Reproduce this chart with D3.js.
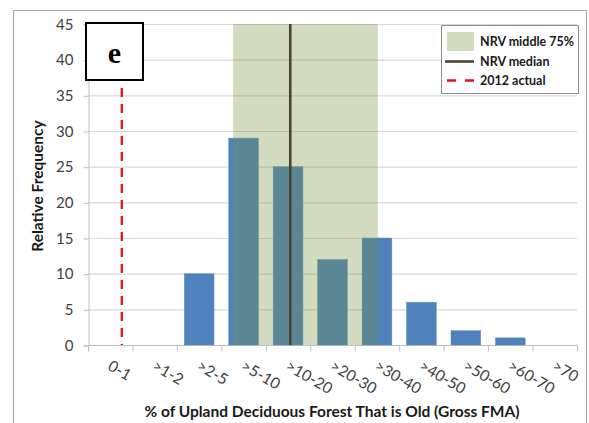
<!DOCTYPE html>
<html>
<head>
<meta charset="utf-8">
<script src="https://cdn.jsdelivr.net/npm/d3@7/dist/d3.min.js"></script>
<style>
  html, body { margin: 0; padding: 0; background: #fff; }
  svg { display: block; font-family: Lato, "Open Sans", sans-serif; }
</style>
</head>
<body>
<svg id="chart" width="589" height="423"></svg>
<script>
// ---- data ----
const categories = ["0-1", ">1-2", ">2-5", ">5-10", ">10-20", ">20-30", ">30-40", ">40-50", ">50-60", ">60-70", ">70"];
const frequency = [0, 0, 10, 29, 25, 12, 15, 6, 2, 1, 0];
const yTicks = [0, 5, 10, 15, 20, 25, 30, 35, 40, 45];
// reference lines in category-index units along the x axis
const nrvMiddle75 = [3.26, 6.52];
const nrvMedian = 4.55;
const actual2012 = 0.76;
const legendItems = ["NRV middle 75%", "NRV median", "2012 actual"];

// ---- layout ----
const svg = d3.select("#chart");
const L = 88, R = 577, T = 24, B = 345;

const x = d3.scaleBand().domain(categories).range([L, R]).paddingInner(0.33).paddingOuter(0.165);
const xi = d3.scaleLinear().domain([0, categories.length]).range([L, R]);
const y = d3.scaleLinear().domain([0, 45]).range([B, T]);

// outer frame
svg.append("rect").attr("x", 13.5).attr("y", 10.5).attr("width", 573).attr("height", 430)
  .attr("fill", "none").attr("stroke", "#a6a6a6").attr("stroke-width", 1);

// gridlines
svg.append("g").selectAll("line").data(yTicks.filter(d => d > 0)).join("line")
  .attr("x1", L).attr("x2", R).attr("y1", d => y(d) + 0.5).attr("y2", d => y(d) + 0.5)
  .attr("stroke", "#d9d9d9").attr("stroke-width", 1.2);

// y axis
const yAxis = d3.axisLeft(y).tickValues(yTicks).tickSize(5).tickPadding(10);
const gy = svg.append("g").attr("transform", `translate(${L + 0.5},0.5)`).call(yAxis);
gy.select(".domain").attr("stroke", "#bfbfbf");
gy.selectAll(".tick line").attr("stroke", "#bfbfbf");
gy.selectAll(".tick text").attr("fill", "#404040").style("font-size", "15px").style("font-family", "Lato, sans-serif");

// x axis (ticks at category boundaries)
const gx = svg.append("g").attr("transform", `translate(0,${B + 0.5})`);
gx.append("line").attr("x1", L).attr("x2", R).attr("stroke", "#bfbfbf");
gx.selectAll("line.tk").data(d3.range(categories.length + 1)).join("line").attr("class", "tk")
  .attr("x1", d => xi(d) + 0.5).attr("x2", d => xi(d) + 0.5).attr("y1", 0).attr("y2", 6)
  .attr("stroke", "#bfbfbf");
gx.selectAll("text").data(categories).join("text")
  .attr("transform", d => `translate(${x(d) + x.bandwidth() / 2 + 2},14) rotate(30)`)
  .attr("dy", "0.71em").attr("text-anchor", "start")
  .attr("fill", "#404040").style("font-size", "15.5px")
  .text(d => d);

// bars
svg.append("g").selectAll("rect").data(categories.map((c, i) => ({ c, v: frequency[i] })).filter(d => d.v > 0))
  .join("rect")
  .attr("x", d => x(d.c)).attr("width", x.bandwidth())
  .attr("y", d => y(d.v)).attr("height", d => y(0) - y(d.v))
  .attr("fill", "#4f81bd").attr("stroke", "#6a93c6").attr("stroke-width", 0.5);

// NRV middle 75% band
svg.append("rect")
  .attr("x", xi(nrvMiddle75[0])).attr("width", xi(nrvMiddle75[1]) - xi(nrvMiddle75[0]))
  .attr("y", y(45)).attr("height", y(0) - y(45))
  .attr("fill", "#77933c").attr("fill-opacity", 0.32);

// NRV median
svg.append("line")
  .attr("x1", xi(nrvMedian)).attr("x2", xi(nrvMedian)).attr("y1", y(45)).attr("y2", y(0))
  .attr("stroke", "#4a4530").attr("stroke-width", 2.6);

// 2012 actual
svg.append("line")
  .attr("x1", xi(actual2012)).attr("x2", xi(actual2012)).attr("y1", y(45)).attr("y2", y(0))
  .attr("stroke", "#e0141c").attr("stroke-width", 2.3).attr("stroke-dasharray", "9,7");

// "e" panel label
svg.append("rect").attr("x", 86).attr("y", 23).attr("width", 57).attr("height", 57)
  .attr("fill", "#fff").attr("stroke", "#000").attr("stroke-width", 2);
svg.append("text").attr("x", 114.5).attr("y", 63).attr("text-anchor", "middle")
  .style("font-family", "'Liberation Serif', 'DejaVu Serif', serif").style("font-weight", "bold").style("font-size", "30px")
  .text("e");

// legend
const lg = svg.append("g");
lg.append("rect").attr("x", 441.5).attr("y", 25.5).attr("width", 137).attr("height", 68)
  .attr("fill", "#fff").attr("stroke", "#8c8c8c").attr("stroke-width", 1);
lg.append("rect").attr("x", 447).attr("y", 32).attr("width", 27).attr("height", 19)
  .attr("fill", "#77933c").attr("fill-opacity", 0.32);
lg.append("line").attr("x1", 445).attr("x2", 474).attr("y1", 61.5).attr("y2", 61.5)
  .attr("stroke", "#4a4530").attr("stroke-width", 2.6);
lg.append("line").attr("x1", 447).attr("x2", 474).attr("y1", 80.5).attr("y2", 80.5)
  .attr("stroke", "#e0141c").attr("stroke-width", 2.3).attr("stroke-dasharray", "9,9");
lg.selectAll("text").data(legendItems).join("text")
  .attr("x", 480).attr("y", (d, i) => 42 + i * 19.5).attr("dy", "0.35em")
  .attr("fill", "#1a1a1a").style("font-weight", "bold").style("font-size", "12.5px")
  .text(d => d);

// axis titles
svg.append("text").attr("transform", "translate(42.5,186) rotate(-90)").attr("text-anchor", "middle")
  .attr("fill", "#1a1a1a").style("font-weight", "bold").style("font-size", "15.5px")
  .text("Relative Frequency");
svg.append("text").attr("x", 332).attr("y", 417).attr("text-anchor", "middle")
  .attr("fill", "#1a1a1a").style("font-weight", "bold").style("font-size", "15.5px")
  .text("% of Upland Deciduous Forest That is Old (Gross FMA)");
</script>
</body>
</html>
